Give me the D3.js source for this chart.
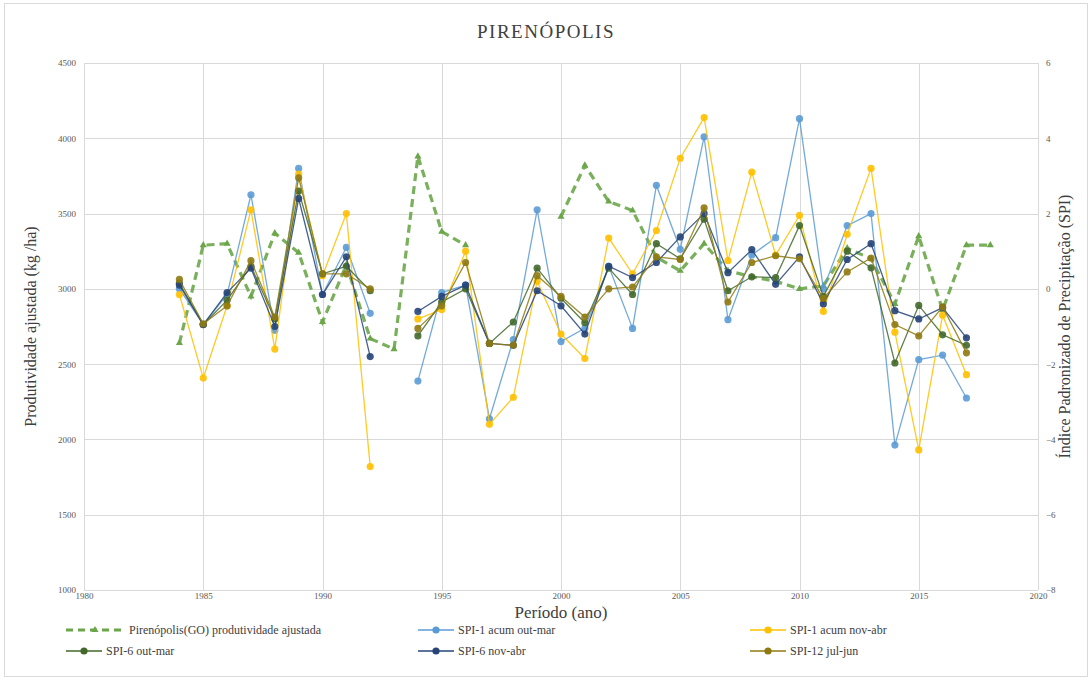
<!DOCTYPE html>
<html>
<head>
<meta charset="utf-8">
<script src="https://cdn.jsdelivr.net/npm/d3@7"></script>
<style>
  html, body { margin: 0; padding: 0; background: #fff; }
  svg text { font-family: "Liberation Serif", "Times New Roman", serif; }
</style>
</head>
<body>
<div id="chart"></div>
<script>
// ---- data ----
const years = [1984, 1985, 1986, 1987, 1988, 1989, 1990, 1991, 1992, 1993, 1994, 1995, 1996, 1997, 1998, 1999, 2000,
  2001, 2002, 2003, 2004, 2005, 2006, 2007, 2008, 2009, 2010, 2011, 2012, 2013, 2014, 2015, 2016, 2017, 2018];

// productivity (kg/ha, left axis)
const produtividade = [2640, 3290, 3300, 2950, 3370, 3240, 2780, 3160, 2670, 2600, 3880, 3380, 3290, null, null, null, 3480,
  3820, 3580, 3520, 3210, 3120, 3300, 3120, 3080, 3050, 3000, 3020, 3270, 3200, 2900, 3350, 2860, 3290, 3290];

// SPI series (right axis)
const spi1OutMar = [0.0, -0.95, -0.15, 2.5, -1.1, 3.2, -0.15, 1.1, -0.65, null, -2.45, -0.1, 0.1, -3.45, -1.35, 2.1, -1.4,
  -1.05, 0.6, -1.05, 2.75, 1.05, 4.04, -0.82, 0.9, 1.36, 4.52, 0.0, 1.68, 2.0, -4.15, -1.88, -1.76, -2.9, null];
const spi1NovAbr = [-0.15, -2.37, -0.45, 2.1, -1.6, 3.05, 0.35, 2.0, -4.72, null, -0.8, -0.55, 1.0, -3.6, -2.88, 0.2, -1.2,
  -1.85, 1.35, 0.4, 1.55, 3.47, 4.55, 0.75, 3.1, 0.9, 1.95, -0.6, 1.45, 3.2, -1.15, -4.28, -0.7, -2.28, null];
const spi6OutMar = [0.15, -0.95, -0.3, 0.6, -0.8, 2.6, 0.4, 0.6, -0.05, null, -1.25, -0.35, 0.0, -1.45, -0.88, 0.55, -0.25,
  -0.9, 0.55, -0.15, 1.2, 0.8, 1.85, -0.05, 0.32, 0.3, 1.68, -0.2, 1.0, 0.56, -1.97, -0.44, -1.22, -1.5, null];
const spi6NovAbr = [0.1, -0.95, -0.1, 0.55, -1.0, 2.4, -0.15, 0.85, -1.8, null, -0.6, -0.2, 0.1, -1.45, -1.5, -0.05, -0.45,
  -1.2, 0.6, 0.3, 0.7, 1.38, 2.0, 0.43, 1.04, 0.12, 0.85, -0.4, 0.78, 1.2, -0.58, -0.8, -0.5, -1.3, null];
const spi12JulJun = [0.25, -0.93, -0.45, 0.75, -0.75, 2.95, 0.4, 0.4, 0.0, null, -1.05, -0.45, 0.7, -1.45, -1.5, 0.35, -0.2,
  -0.75, 0.0, 0.05, 0.85, 0.78, 2.15, -0.35, 0.7, 0.88, 0.8, -0.25, 0.45, 0.82, -0.95, -1.25, -0.48, -1.7, null];

const leftTicks = [1000, 1500, 2000, 2500, 3000, 3500, 4000, 4500];
const rightTicks = [-8, -6, -4, -2, 0, 2, 4, 6];
const xTicks = [1980, 1985, 1990, 1995, 2000, 2005, 2010, 2015, 2020];

const spiSeries = [
  { name: "SPI-1 acum out-mar", values: spi1OutMar, color: "#5B9BD5" },
  { name: "SPI-1 acum nov-abr", values: spi1NovAbr, color: "#FFC000" },
  { name: "SPI-6 out-mar", values: spi6OutMar, color: "#43682B" },
  { name: "SPI-6 nov-abr", values: spi6NovAbr, color: "#264478" },
  { name: "SPI-12 jul-jun", values: spi12JulJun, color: "#8F7A12" }
];
const prodName = "Pirenópolis(GO) produtividade ajustada";
const prodColor = "#6CA64A";

// ---- layout ----
const width = 1092, height = 681;
const plot = { left: 84, right: 1038, top: 63, bottom: 590 };

const svg = d3.select("#chart").append("svg")
  .attr("width", width)
  .attr("height", height);

svg.append("rect")
  .attr("x", 4.5).attr("y", 3.5)
  .attr("width", width - 9).attr("height", height - 8)
  .attr("fill", "#fff")
  .attr("stroke", "#d9d9d9");

const x = d3.scaleLinear().domain([1980, 2020]).range([plot.left, plot.right]);
const yL = d3.scaleLinear().domain([1000, 4500]).range([plot.bottom, plot.top]);
const yR = d3.scaleLinear().domain([-8, 6]).range([plot.bottom, plot.top]);

// grid
const grid = svg.append("g");
grid.selectAll(".h").data(leftTicks).join("line")
  .attr("x1", plot.left).attr("x2", plot.right)
  .attr("y1", d => Math.round(yL(d)) + 0.5).attr("y2", d => Math.round(yL(d)) + 0.5)
  .attr("stroke", "#d9d9d9").attr("stroke-width", 1);
grid.selectAll(".v").data(xTicks).join("line")
  .attr("y1", plot.top).attr("y2", plot.bottom)
  .attr("x1", d => Math.round(x(d)) + 0.5).attr("x2", d => Math.round(x(d)) + 0.5)
  .attr("stroke", "#d9d9d9").attr("stroke-width", 1);

// axes (labels only, Excel-style)
const tickColor = "#595959";
const axL = svg.append("g").attr("transform", `translate(${plot.left - 8},0)`)
  .call(d3.axisLeft(yL).tickValues(leftTicks).tickFormat(d3.format("d")).tickSize(0).tickPadding(0));
const axR = svg.append("g").attr("transform", `translate(${plot.right + 8},0)`)
  .call(d3.axisRight(yR).tickValues(rightTicks).tickFormat(d3.format("d")).tickSize(0).tickPadding(0));
const axB = svg.append("g").attr("transform", `translate(0,${plot.bottom + 3})`)
  .call(d3.axisBottom(x).tickValues(xTicks).tickFormat(d3.format("d")).tickSize(0).tickPadding(0));
[axL, axR, axB].forEach(a => {
  a.select(".domain").remove();
  a.selectAll("text").attr("fill", tickColor).style("font-size", "9px")
    .style("font-family", '"Liberation Serif", serif');
});

// productivity dashed line
const prodPts = years.map((yr, i) => ({ yr, v: produtividade[i] }));
const lineL = d3.line().defined(d => d.v != null).x(d => x(d.yr)).y(d => yL(d.v));
svg.append("path")
  .attr("d", lineL(prodPts))
  .attr("fill", "none")
  .attr("stroke", prodColor)
  .attr("stroke-width", 3.2)
  .attr("stroke-dasharray", "8,5")
  .attr("opacity", 0.9);
const tri = d3.symbol().type(d3.symbolTriangle).size(22);
svg.append("g").selectAll("path").data(prodPts.filter(d => d.v != null)).join("path")
  .attr("d", tri)
  .attr("transform", d => `translate(${x(d.yr)},${yL(d.v)})`)
  .attr("fill", prodColor);

// SPI lines
const lineR = d3.line().defined(d => d.v != null).x(d => x(d.yr)).y(d => yR(d.v));
spiSeries.forEach(s => {
  const pts = years.map((yr, i) => ({ yr, v: s.values[i] }));
  const g = svg.append("g");
  g.append("path")
    .attr("d", lineR(pts))
    .attr("fill", "none")
    .attr("stroke", s.color)
    .attr("stroke-width", 1.3)
    .attr("opacity", 0.85);
  g.selectAll("circle").data(pts.filter(d => d.v != null)).join("circle")
    .attr("cx", d => x(d.yr))
    .attr("cy", d => yR(d.v))
    .attr("r", 3.6)
    .attr("fill", s.color)
    .attr("opacity", 0.9);
});

// titles
svg.append("text")
  .attr("x", 546).attr("y", 38)
  .attr("text-anchor", "middle")
  .attr("fill", "#404040")
  .style("font-size", "19px")
  .style("letter-spacing", "1.5px")
  .text("PIRENÓPOLIS");

svg.append("text")
  .attr("transform", `translate(36,${(plot.top + plot.bottom) / 2}) rotate(-90)`)
  .attr("text-anchor", "middle")
  .attr("fill", "#404040")
  .style("font-size", "16px")
  .text("Produtividade ajustada  (kg /ha)");

svg.append("text")
  .attr("transform", `translate(1070,${(plot.top + plot.bottom) / 2}) rotate(-90)`)
  .attr("text-anchor", "middle")
  .attr("fill", "#404040")
  .style("font-size", "16px")
  .text("Índice  Padronizado  de  Precipitação  (SPI)");

svg.append("text")
  .attr("x", (plot.left + plot.right) / 2).attr("y", 618)
  .attr("text-anchor", "middle")
  .attr("fill", "#404040")
  .style("font-size", "17px")
  .text("Período  (ano)");

// legend
const legendItems = [
  { name: prodName, color: prodColor, dashed: true },
  spiSeries[0], spiSeries[1], spiSeries[2], spiSeries[3], spiSeries[4]
];
const colX = [66, 418, 750];
const rowY = [630, 651];
const leg = svg.append("g");
legendItems.forEach((it, i) => {
  const cx = colX[i % 3], cy = rowY[Math.floor(i / 3)];
  const g = leg.append("g").attr("transform", `translate(${cx},${cy})`);
  if (it.dashed) {
    g.append("line").attr("x1", 0).attr("x2", 58).attr("y1", 0).attr("y2", 0)
      .attr("stroke", it.color).attr("stroke-width", 3).attr("stroke-dasharray", "7,5");
    g.append("path").attr("d", tri).attr("transform", "translate(29,0)").attr("fill", it.color);
  } else {
    g.append("line").attr("x1", 0).attr("x2", 36).attr("y1", 0).attr("y2", 0)
      .attr("stroke", it.color).attr("stroke-width", 1.5);
    g.append("circle").attr("cx", 18).attr("cy", 0).attr("r", 3.6).attr("fill", it.color);
  }
  g.append("text")
    .attr("x", it.dashed ? 63 : 40).attr("y", 4)
    .attr("fill", "#404040")
    .style("font-size", "12px")
    .text(it.name);
});
</script>
</body>
</html>
